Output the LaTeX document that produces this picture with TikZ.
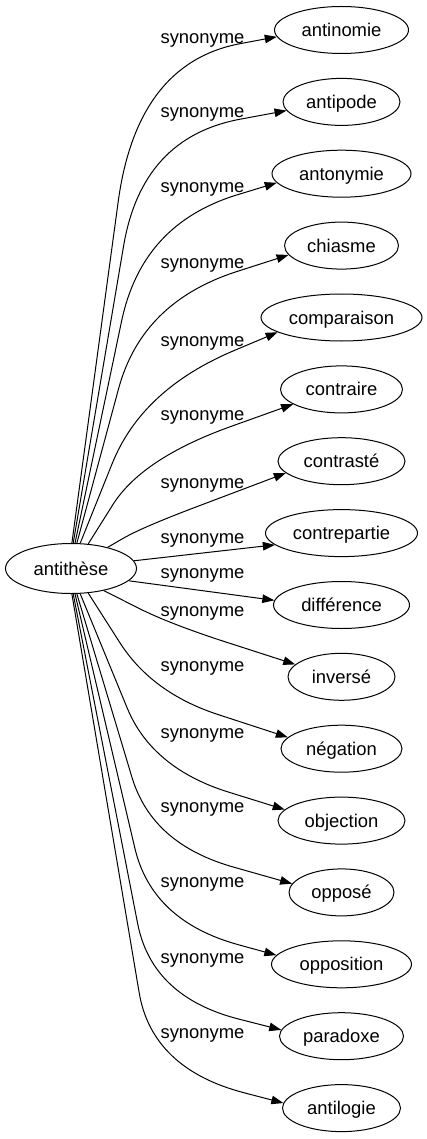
\documentclass[tikz,border=0pt]{standalone}
\usepackage{fontspec}
\setmainfont{Liberation Sans}
\usetikzlibrary{arrows.meta,calc,shapes.geometric}
% #1 start, #2 knee, #3 end, #4 start-side radius, #5 its control, #6 end-side radius, #7 its control
\newcommand{\synedge}[7]{\draw[synarrow] (#1) -- ($(#2)!#4!(#1)$) .. controls ($(#2)!#5!(#1)$) and ($(#2)!#7!(#3)$) .. ($(#2)!#6!(#3)$) -- (#3);}
\tikzset{
  tnode/.style={draw, ellipse, line width=1pt, inner sep=0pt, minimum height=47pt,
    text height=14.5pt, text depth=1.5pt, font=\fontsize{18.4pt}{20pt}\selectfont},
  lab/.style={anchor=base, inner sep=0pt, font=\fontsize{18.4pt}{20pt}\selectfont},
  synarrow/.style={line width=1pt, -{Triangle[length=12pt,width=8.5pt]}}
}
\begin{document}
\begin{tikzpicture}[x=1pt,y=-1pt]
\useasboundingbox (0,0) rectangle (427,1139);
% source
\node[tnode, minimum width=131pt, minimum height=50pt] (src) at (71,568.5) {antithèse};
% targets
\node[tnode, minimum width=134pt] (t0) at (341.5,30) {antinomie};
\node[tnode, minimum width=117pt] (t1) at (341.5,101.9) {antipode};
\node[tnode, minimum width=139pt] (t2) at (341.5,173.7) {antonymie};
\node[tnode, minimum width=114pt] (t3) at (341.5,245.6) {chiasme};
\node[tnode, minimum width=161pt] (t4) at (341.5,317.5) {comparaison};
\node[tnode, minimum width=122pt] (t5) at (341.5,389.4) {contraire};
\node[tnode, minimum width=127pt] (t6) at (341.5,461.2) {contrasté};
\node[tnode, minimum width=152pt] (t7) at (341.5,533.1) {contrepartie};
\node[tnode, minimum width=136pt] (t8) at (341.5,605) {différence};
\node[tnode, minimum width=107pt] (t9) at (341.5,676.8) {inversé};
\node[tnode, minimum width=121pt] (t10) at (341.5,748.7) {négation};
\node[tnode, minimum width=127pt] (t11) at (341.5,820.6) {objection};
\node[tnode, minimum width=105pt] (t12) at (341.5,892.4) {opposé};
\node[tnode, minimum width=140pt] (t13) at (341.5,964.3) {opposition};
\node[tnode, minimum width=124pt] (t14) at (341.5,1036.2) {paradoxe};
\node[tnode, minimum width=118pt] (t15) at (341.5,1108.1) {antilogie};
% labels
\node[lab] (l0) at (202.5,43.5) {synonyme};
\node[lab] (l1) at (202.5,117.5) {synonyme};
\node[lab] (l2) at (202.5,192.5) {synonyme};
\node[lab] (l3) at (202.5,268.5) {synonyme};
\node[lab] (l4) at (202.5,346.5) {synonyme};
\node[lab] (l5) at (202.5,420.5) {synonyme};
\node[lab] (l6) at (202.5,488.5) {synonyme};
\node[lab] (l7) at (202.5,543.5) {synonyme};
\node[lab] (l8) at (202.5,578.5) {synonyme};
\node[lab] (l9) at (202.5,616.5) {synonyme};
\node[lab] (l10) at (202.5,671.5) {synonyme};
\node[lab] (l11) at (202.5,738.5) {synonyme};
\node[lab] (l12) at (202.5,812.5) {synonyme};
\node[lab] (l13) at (202.5,887.5) {synonyme};
\node[lab] (l14) at (202.5,963.5) {synonyme};
\node[lab] (l15) at (202.5,1038.5) {synonyme};
% knees
\coordinate (k0) at (137,63);
\coordinate (k1) at (142,137.4);
\coordinate (k2) at (142,223.8);
\coordinate (k3) at (142,302);
\coordinate (k4) at (142,389.3);
\coordinate (k5) at (142,458.3);
\coordinate (k6) at (142,527.4);
\coordinate (k9) at (170,624);
\coordinate (k10) at (152,693);
\coordinate (k11) at (152,768.3);
\coordinate (k12) at (152,844);
\coordinate (k13) at (152,921);
\coordinate (k14) at (152,997);
\coordinate (k15) at (152,1068.7);
% edges
\synedge{src.88}{k0}{t0.186}{140pt}{47pt}{105pt}{35pt}
\synedge{src.85}{k1}{t1.189}{110pt}{37pt}{100pt}{33pt}
\synedge{src.81}{k2}{t2.188}{100pt}{33pt}{100pt}{33pt}
\synedge{src.77}{k3}{t3.190}{90pt}{30pt}{100pt}{33pt}
\synedge{src.70}{k4}{t4.193}{80pt}{27pt}{100pt}{33pt}
\synedge{src.55}{k5}{t5.197}{55pt}{18pt}{95pt}{32pt}
\synedge{src.30}{k6}{t6.192}{22pt}{7pt}{60pt}{20pt}
\draw[synarrow] (src.7) -- (t7.190);
\draw[synarrow] (src.348) -- (t8.176);
\synedge{src.326}{k9}{t9.165}{35pt}{12pt}{60pt}{20pt}
\synedge{src.305}{k10}{t10.168}{60pt}{20pt}{70pt}{23pt}
\synedge{src.290}{k11}{t11.169}{65pt}{22pt}{80pt}{27pt}
\synedge{src.283}{k12}{t12.170}{70pt}{23pt}{85pt}{28pt}
\synedge{src.279}{k13}{t13.172}{75pt}{25pt}{90pt}{30pt}
\synedge{src.275}{k14}{t14.174}{75pt}{25pt}{90pt}{30pt}
\synedge{src.272}{k15}{t15.175}{77pt}{26pt}{95pt}{32pt}
\end{tikzpicture}
\end{document}
